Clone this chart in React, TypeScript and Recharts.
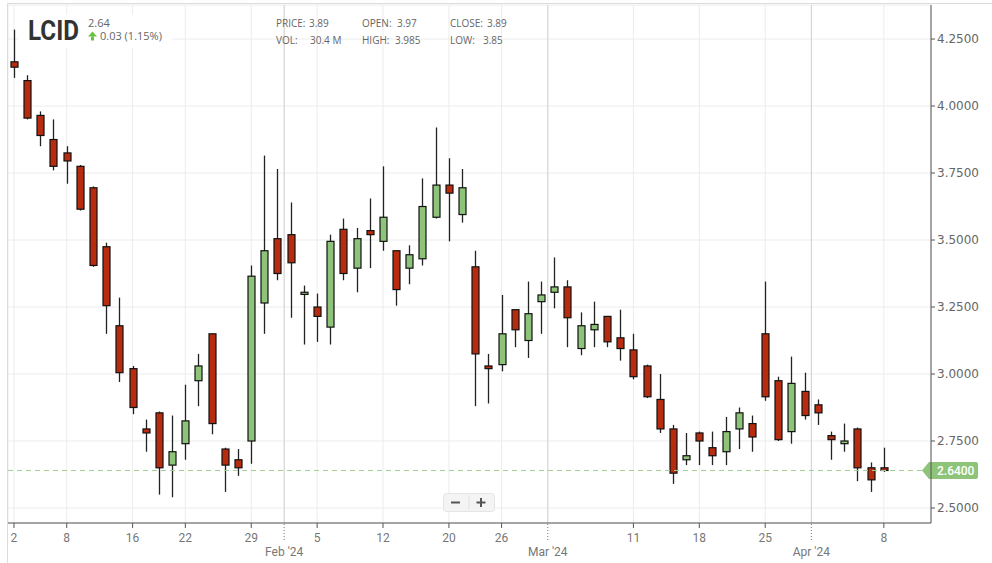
import React from 'react'
import {
    ComposedChart,
    Bar,
    XAxis,
    YAxis,
    CartesianGrid,
    ReferenceLine,
} from 'recharts'

// trading days shown on the chart
const tradingDays = [
    '2024-01-02', '2024-01-03', '2024-01-04', '2024-01-05', '2024-01-08', '2024-01-09', '2024-01-10',
    '2024-01-11', '2024-01-12', '2024-01-16', '2024-01-17', '2024-01-18', '2024-01-19', '2024-01-22',
    '2024-01-23', '2024-01-24', '2024-01-25', '2024-01-26', '2024-01-29', '2024-01-30', '2024-01-31',
    '2024-02-01', '2024-02-02', '2024-02-05', '2024-02-06', '2024-02-07', '2024-02-08', '2024-02-09',
    '2024-02-12', '2024-02-13', '2024-02-14', '2024-02-15', '2024-02-16', '2024-02-20', '2024-02-21',
    '2024-02-22', '2024-02-23', '2024-02-26', '2024-02-27', '2024-02-28', '2024-02-29', '2024-03-01',
    '2024-03-04', '2024-03-05', '2024-03-06', '2024-03-07', '2024-03-08', '2024-03-11', '2024-03-12',
    '2024-03-13', '2024-03-14', '2024-03-15', '2024-03-18', '2024-03-19', '2024-03-20', '2024-03-21',
    '2024-03-22', '2024-03-25', '2024-03-26', '2024-03-27', '2024-03-28', '2024-04-01', '2024-04-02',
    '2024-04-03', '2024-04-04', '2024-04-05', '2024-04-08',
]

const opens = [
    4.165, 4.095, 3.965, 3.875, 3.825, 3.775, 3.695, 3.475, 3.18, 3.02, 2.795, 2.855, 2.66, 2.74,
    2.975, 3.15, 2.72, 2.68, 2.75, 3.265, 3.505, 3.52, 3.297, 3.25, 3.175, 3.54, 3.395, 3.535,
    3.495, 3.46, 3.395, 3.43, 3.585, 3.705, 3.595, 3.4, 3.03, 3.035, 3.24, 3.125, 3.27, 3.305,
    3.325, 3.095, 3.165, 3.215, 3.135, 3.09, 3.03, 2.905, 2.795, 2.68, 2.78, 2.725, 2.71, 2.795,
    2.815, 3.15, 2.975, 2.785, 2.935, 2.885, 2.77, 2.74, 2.795, 2.65, 2.65,
]
const highs = [
    4.285, 4.115, 3.98, 3.95, 3.85, 3.78, 3.7, 3.49, 3.285, 3.03, 2.83, 2.86, 2.845, 2.96,
    3.075, 3.15, 2.725, 2.72, 3.405, 3.815, 3.765, 3.64, 3.33, 3.3, 3.52, 3.58, 3.545, 3.655,
    3.775, 3.46, 3.48, 3.73, 3.92, 3.805, 3.765, 3.46, 3.075, 3.295, 3.24, 3.345, 3.345, 3.435,
    3.35, 3.23, 3.27, 3.215, 3.24, 3.15, 3.035, 3.0, 2.81, 2.78, 2.785, 2.785, 2.84, 2.875,
    2.845, 3.345, 2.99, 3.065, 3.005, 2.905, 2.785, 2.815, 2.8, 2.67, 2.725,
]
const lows = [
    4.105, 3.95, 3.85, 3.76, 3.71, 3.61, 3.4, 3.15, 2.97, 2.85, 2.71, 2.55, 2.54, 2.68,
    2.88, 2.775, 2.56, 2.62, 2.665, 3.15, 3.35, 3.21, 3.11, 3.12, 3.11, 3.35, 3.305, 3.395,
    3.46, 3.255, 3.335, 3.405, 3.58, 3.495, 3.565, 2.88, 2.89, 3.01, 3.1, 3.06, 3.15, 3.245,
    3.1, 3.07, 3.1, 3.1, 3.05, 2.98, 2.91, 2.78, 2.59, 2.66, 2.66, 2.66, 2.66, 2.72,
    2.71, 2.9, 2.75, 2.74, 2.83, 2.81, 2.68, 2.71, 2.6, 2.56, 2.635,
]
const closes = [
    4.145, 3.955, 3.89, 3.775, 3.795, 3.615, 3.405, 3.255, 3.005, 2.875, 2.78, 2.65, 2.71, 2.825,
    3.03, 2.815, 2.66, 2.65, 3.365, 3.46, 3.375, 3.415, 3.305, 3.215, 3.495, 3.375, 3.505, 3.52,
    3.585, 3.315, 3.445, 3.625, 3.705, 3.675, 3.695, 3.075, 3.02, 3.15, 3.165, 3.225, 3.295, 3.325,
    3.21, 3.18, 3.185, 3.12, 3.095, 2.99, 2.915, 2.795, 2.63, 2.695, 2.75, 2.695, 2.785, 2.855,
    2.765, 2.915, 2.755, 2.965, 2.845, 2.855, 2.755, 2.75, 2.65, 2.605, 2.64,
]

// days that get a label under the axis
const labeledDays = [
    '2024-01-02', '2024-01-08', '2024-01-16', '2024-01-22', '2024-01-29', '2024-02-05', '2024-02-12',
    '2024-02-20', '2024-02-26', '2024-03-11', '2024-03-18', '2024-03-25', '2024-04-08',
]
const monthNames = ['Jan', 'Feb', 'Mar', 'Apr']
const priceTicks = [2.5, 2.75, 3.0, 3.25, 3.5, 3.75, 4.0, 4.25]

const lastPrice = 2.64
const ticker = 'LCID'
const change = '0.03 (1.15%)'
const infoRows = [
    [['PRICE:', '3.89'], ['OPEN:', '3.97'], ['CLOSE:', '3.89']],
    [['VOL:', '30.4 M'], ['HIGH:', '3.985'], ['LOW:', '3.85']],
]

const RED = '#b72b0e'
const GREEN = '#8dc479'

const rows = tradingDays.map((date, i) => ({
    i,
    date,
    open: opens[i],
    high: highs[i],
    low: lows[i],
    close: closes[i],
}))

// month boundaries sit half a day before the first trading day of a month
const monthBreaks: { at: number; label: string }[] = []
tradingDays.forEach((d, i) => {
    if (i > 0 && d.slice(5, 7) !== tradingDays[i - 1].slice(5, 7)) {
        monthBreaks.push({ at: i - 0.5, label: `${monthNames[Number(d.slice(5, 7)) - 1]} '24` })
    }
})
const dayTicks = labeledDays.map((d) => tradingDays.indexOf(d))
const xTicks = [...dayTicks, ...monthBreaks.map((m) => m.at)].sort((a, b) => a - b)

const Candle = (props: any) => {
    const { x, y, width, height, payload } = props
    if (x == null || y == null) return null
    const { open, close, high, low } = payload
    const top = Math.min(y, y + height)
    const span = Math.abs(height)
    const px = (v: number) => (high === low ? top : top + ((high - v) / (high - low)) * span)
    const cx = Math.round(x + width / 2) + 0.5
    const up = close >= open
    const bTop = px(Math.max(open, close))
    const bBot = px(Math.min(open, close))
    return (
        <g>
            <line x1={cx} x2={cx} y1={top} y2={top + span} stroke="#222" strokeWidth={1.3} />
            <rect
                x={cx - 3.5}
                y={bTop}
                width={7}
                height={Math.max(bBot - bTop, 1.5)}
                fill={up ? GREEN : RED}
                stroke="#111"
                strokeWidth={1.2}
            />
        </g>
    )
}

const XTick = (props: any) => {
    const { x, y, payload } = props
    const v = payload.value
    const brk = monthBreaks.find((m) => m.at === v)
    if (brk) {
        return (
            <g>
                <line x1={x} x2={x} y1={y + 1} y2={y + 19} stroke="#777" strokeDasharray="1 2" />
                <text x={x} y={y + 33} textAnchor="middle" fontFamily="Roboto" fontSize={12} fill="#777">
                    {brk.label}
                </text>
            </g>
        )
    }
    const label = String(Number(tradingDays[v].slice(8, 10)))
    return (
        <g>
            <line x1={x} x2={x} y1={y} y2={y + 5} stroke="#555" />
            <text x={x} y={y + 19} textAnchor="middle" fontFamily="Roboto" fontSize={12} fill="#777">
                {label}
            </text>
        </g>
    )
}

const PriceTag = (props: any) => {
    const { viewBox } = props
    const yy = viewBox.y
    const tip = viewBox.x + viewBox.width - 9
    return (
        <g>
            <path
                d={`M${tip},${yy} L${tip + 7},${yy - 8.5} L${tip + 54},${yy - 8.5} Q${tip + 56},${yy - 8.5} ${tip + 56},${yy - 6.5} L${tip + 56},${yy + 6.5} Q${tip + 56},${yy + 8.5} ${tip + 54},${yy + 8.5} L${tip + 7},${yy + 8.5} Z`}
                fill={GREEN}
            />
            <text x={tip + 15} y={yy + 4.5} fontFamily="Roboto" fontWeight={500} fontSize={12} fill="#fff">
                {lastPrice.toFixed(4)}
            </text>
        </g>
    )
}

export default function App() {
    const infoX = [276, 362, 450]
    const valX = [[309, 397, 487], [310, 395, 483]]
    return (
        <div style={{ position: 'absolute', left: 0, top: 0, width: 992, height: 563, background: '#fff' }}>
            <ComposedChart width={992} height={563} data={rows} margin={{ top: 5, right: 6, bottom: 0, left: 8 }}>
                <CartesianGrid stroke="#ececec" />
                <XAxis
                    dataKey="i"
                    type="number"
                    domain={[-0.455, 69.58]}
                    allowDataOverflow
                    ticks={xTicks}
                    interval={0}
                    height={40}
                    tickSize={0}
                    tickMargin={0}
                    tick={<XTick />}
                    axisLine={{ stroke: '#555' }}
                />
                <YAxis
                    orientation="right"
                    domain={[2.444, 4.377]}
                    allowDataOverflow
                    ticks={priceTicks}
                    interval={0}
                    width={55}
                    tickSize={4}
                    tickMargin={2}
                    tickFormatter={(v: number) => v.toFixed(4)}
                    tick={{ fontFamily: 'DejaVu Sans', fontSize: 12, fill: '#666' }}
                    tickLine={{ stroke: '#555' }}
                    axisLine={{ stroke: '#555' }}
                />
                {monthBreaks.map((m) => (
                    <ReferenceLine key={m.at} x={m.at} stroke="#d2d2d2" />
                ))}
                <ReferenceLine
                    y={lastPrice}
                    stroke="#a3cf92"
                    strokeDasharray="5 4"
                    label={<PriceTag />}
                />
                <Bar
                    dataKey={(d: any) => [d.low, d.high]}
                    barSize={9}
                    shape={Candle}
                    isAnimationActive={false}
                />
            </ComposedChart>
            <svg
                width={992}
                height={563}
                style={{ position: 'absolute', left: 0, top: 0, pointerEvents: 'none' }}
            >
                <line x1={7.5} y1={3.5} x2={992} y2={3.5} stroke="#dcdcdc" />
                <line x1={7.5} y1={3.5} x2={7.5} y2={563} stroke="#dcdcdc" />
                <rect x={18} y={15} width={154} height={33} fill="#fff" />
                <text x={28} y={40} fontFamily="Roboto" fontWeight={700} fontSize={28} fill="#333" textLength={51} lengthAdjust="spacingAndGlyphs">
                    {ticker}
                </text>
                <text x={88} y={27} fontFamily="Open Sans" fontSize={11} fill="#666">
                    {lastPrice.toFixed(2)}
                </text>
                <polygon points="92.5,31.5 97,36.5 88,36.5" fill="#6abf40" />
                <rect x={91} y={36.5} width={3} height={4} fill="#6abf40" />
                <text x={100} y={40} fontFamily="Open Sans" fontSize={11} fill="#666">
                    {change}
                </text>
                {infoRows.map((row, r) =>
                    row.map(([k, v], c) => (
                        <g key={`${r}-${c}`}>
                            <text x={infoX[c]} y={r === 0 ? 27 : 44} fontFamily="Open Sans" fontSize={10} fill="#666">
                                {k}
                            </text>
                            <text x={valX[r][c]} y={r === 0 ? 27 : 44} fontFamily="Open Sans" fontSize={10} fill="#666">
                                {v}
                            </text>
                        </g>
                    ))
                )}
                <rect x={443.5} y={493.5} width={51} height={18} rx={3} fill="#f4f4f4" stroke="#e4e4e4" />
                <line x1={469} y1={495} x2={469} y2={510} stroke="#e2e2e2" />
                <line x1={451} y1={502.5} x2={460} y2={502.5} stroke="#555" strokeWidth={2} />
                <line x1={476.5} y1={502.5} x2={485.5} y2={502.5} stroke="#555" strokeWidth={2} />
                <line x1={481} y1={498} x2={481} y2={507} stroke="#555" strokeWidth={2} />
            </svg>
        </div>
    )
}
